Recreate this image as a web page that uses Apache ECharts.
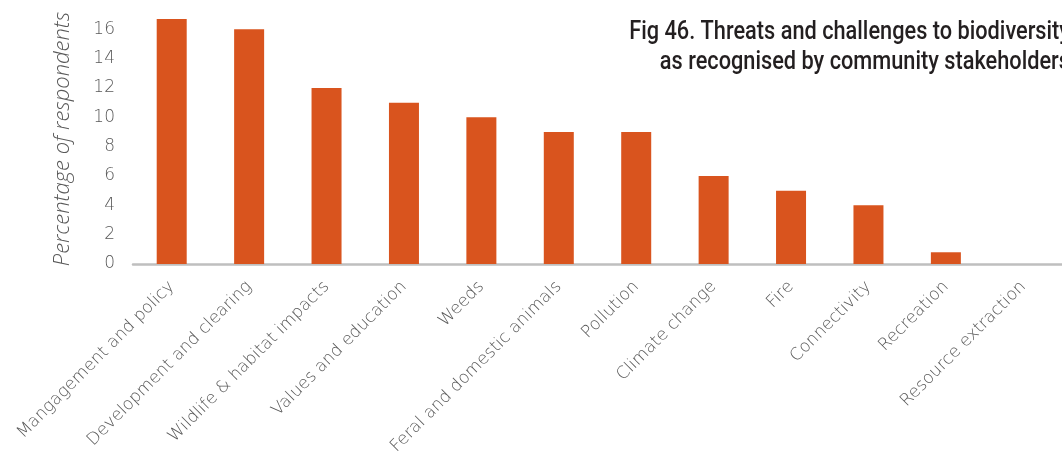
<!DOCTYPE html>
<html><head><meta charset="utf-8">
<script src="https://cdn.jsdelivr.net/npm/echarts@6/dist/echarts.min.js"></script>
<style>html,body{margin:0;padding:0;background:#fff}#c{width:1062px;height:459px}</style>
</head><body><div id="c"></div>
<script>
const categories = ["Mangagement and policy","Development and clearing","Wildlife & habitat impacts","Values and education","Weeds","Feral and domestic animals","Pollution","Climate change","Fire","Connectivity","Recreation","Resource extraction"];
const values = [16.7, 16.0, 12.0, 11.0, 10.0, 9.0, 9.0, 6.0, 5.0, 4.0, 0.8, 0];
const yTicks = [0, 2, 4, 6, 8, 10, 12, 14, 16];
const titleLines = ["Fig 46. Threats and challenges to biodiversity", "as recognised by community stakeholders"];
const yName = "Percentage of respondents";

const chart = echarts.init(document.getElementById('c'));
chart.setOption({
  animation: false,
  grid: { left: 133, top: -2, width: 942, height: 266, containLabel: false },
  xAxis: {
    type: 'category', data: categories,
    axisLine: { lineStyle: { color: '#bfbfbf', width: 2.5 } },
    axisTick: { show: false },
    axisLabel: { rotate: 45, interval: 0, color: '#595959', fontFamily: 'DejaVu Sans', fontWeight: 200, fontSize: 17, margin: 20 }
  },
  yAxis: {
    type: 'value', min: 0, max: 18, interval: 2,
    splitLine: { show: false }, axisLine: { show: false }, axisTick: { show: false },
    axisLabel: { color: '#595959', fontFamily: 'DejaVu Sans', fontWeight: 200, fontSize: 17, margin: 18,
      formatter: v => yTicks.includes(v) ? String(v) : '' }
  },
  series: [{
    type: 'bar', data: values, barWidth: 30,
    itemStyle: { color: '#d9541e' }
  }],
  graphic: [
    { type: 'text', x: 63, y: 139, rotation: Math.PI / 2,
      style: { text: yName, fill: '#595959', font: 'italic 300 22px "Open Sans"', textAlign: 'center', textVerticalAlign: 'middle' } },
    { type: 'text', x: 1070, y: 33, scaleX: 0.87,
      style: { text: titleLines[0], fill: '#231f20', font: '500 25px Roboto', textAlign: 'right', textVerticalAlign: 'middle' } },
    { type: 'text', x: 1070, y: 63, scaleX: 0.87,
      style: { text: titleLines[1], fill: '#231f20', font: '500 25px Roboto', textAlign: 'right', textVerticalAlign: 'middle' } }
  ]
});
</script></body></html>
